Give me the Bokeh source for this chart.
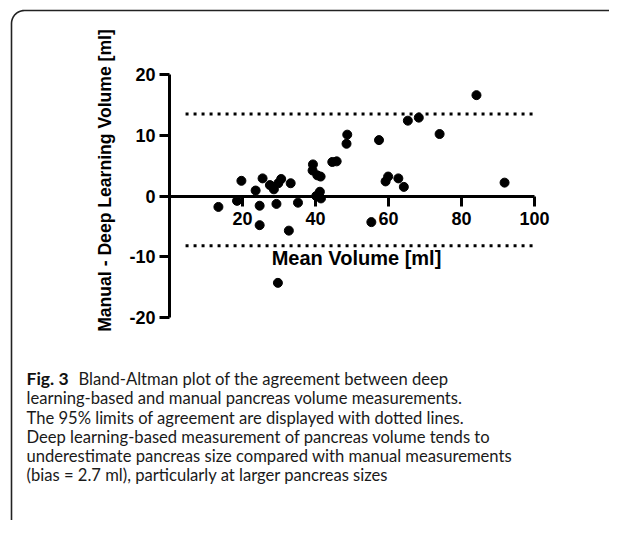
from bokeh.plotting import figure
from bokeh.models import Range1d, Label, FixedTicker, PrintfTickFormatter
from bokeh.embed import file_html
from bokeh.resources import INLINE
import math

# ---- data ----
mean_volume = [13.4, 18.5, 19.7, 23.6, 24.7, 24.7, 25.5, 27.5, 28.6, 29.3,
               29.8, 30.6, 29.7, 32.7, 33.2, 35.2, 39.3, 39.2, 40.5, 41.4,
               41.2, 40.2, 41.5, 44.6, 45.8, 48.7, 48.5, 57.4, 55.3, 59.9,
               59.2, 62.7, 64.2, 65.3, 68.3, 74.0, 84.1, 91.8]
difference = [-1.8, -0.8, 2.5, 0.9, -1.6, -4.8, 2.9, 1.8, 1.1, -1.3,
              2.1, 2.8, -14.3, -5.7, 2.1, -1.1, 5.2, 4.2, 3.4, 3.2,
              0.7, 0.0, -0.4, 5.6, 5.7, 10.1, 8.6, 9.2, -4.3, 3.2,
              2.4, 2.9, 1.5, 12.4, 12.9, 10.2, 16.6, 2.2]
limits_of_agreement = [13.5, -8.2]
x_ticks = [20, 40, 60, 80, 100]
y_ticks = [-20, -10, 0, 10, 20]
x_bounds = (0, 100)
y_bounds = (-20, 20)

x_title = "Mean Volume [ml]"
y_title = "Manual - Deep Learning Volume [ml]"
caption_head = "Fig. 3"
caption_lines = [
    "Bland-Altman plot of the agreement between deep",
    "learning-based and manual pancreas volume measurements.",
    "The 95% limits of agreement are displayed with dotted lines.",
    "Deep learning-based measurement of pancreas volume tends to",
    "underestimate pancreas size compared with manual measurements",
    "(bias = 2.7 ml), particularly at larger pancreas sizes",
]

# ---- geometry: reference-image pixels -> data ----
W, H = 609, 520
OX, OY = 0, 0                       # canvas origin in the screenshot
X0_PX, X100_PX = 169.0, 534.0       # x = 0 and x = 100
Y20_PX, YM20_PX = 74.0, 317.0       # y = 20 and y = -20
sx = (X100_PX - X0_PX) / 100.0
sy = (YM20_PX - Y20_PX) / 40.0
def dx(px):
    return (px - X0_PX) / sx
def dy(py):
    return 20 - (py - Y20_PX) / sy

p = figure(width=W, height=H, output_backend="svg", toolbar_location=None,
           x_range=Range1d(dx(OX), dx(OX + W)),
           y_range=Range1d(dy(OY + H), dy(OY)),
           min_border=0)
p.outline_line_color = None
p.grid.visible = False
p.background_fill_color = "white"
p.border_fill_color = "white"

for ax in (p.xaxis[0], p.yaxis[0]):
    ax.axis_line_width = 3
    ax.axis_line_color = "black"
    ax.major_tick_line_width = 3
    ax.major_tick_line_color = "black"
    ax.major_tick_out = 10
    ax.major_tick_in = 0
    ax.minor_tick_line_color = None
    ax.major_label_text_font = "Liberation Sans"
    ax.major_label_text_font_style = "bold"
    ax.major_label_text_font_size = "18px"
    ax.major_label_text_color = "black"
    ax.formatter = PrintfTickFormatter(format="%d")

p.xaxis.fixed_location = 0
p.yaxis.fixed_location = 0
p.xaxis.bounds = x_bounds
p.yaxis.bounds = y_bounds
p.xaxis.ticker = FixedTicker(ticks=x_ticks)
p.yaxis.ticker = FixedTicker(ticks=y_ticks)
p.xaxis.major_label_standoff = 6
p.yaxis.major_label_standoff = 4

# limits of agreement (dotted)
for v in limits_of_agreement:
    p.segment(x0=4.4, y0=v, x1=100, y1=v, line_color="black",
              line_width=3, line_dash="3 5")

p.scatter(mean_volume, difference, size=9, color="black")

# rounded frame border (top and left edges)
r = 13.0
arc_t = [math.pi / 2 * k / 12 for k in range(13)]
bx = [dx(11 + r - r * math.cos(t)) for t in arc_t]
by = [dy(10 + r - r * math.sin(t)) for t in arc_t]
bx = [dx(11)] + bx + [dx(OX + W)]
by = [dy(OY + H)] + by + [dy(10)]
p.line(bx, by, line_color="#222", line_width=1.6)

p.add_layout(Label(x=dx(356), y=dy(257), text=x_title, text_align="center",
                   text_baseline="middle", text_font="Liberation Sans",
                   text_font_style="bold", text_font_size="20px",
                   text_color="black"))
p.add_layout(Label(x=dx(104), y=dy(180), text=y_title, angle=math.pi / 2,
                   text_align="center", text_baseline="middle",
                   text_font="Liberation Sans", text_font_style="bold",
                   text_font_size="17.6px", text_color="black"))

cap_ys = [378, 397, 417, 436, 455, 474]
p.add_layout(Label(x=dx(26), y=dy(cap_ys[0]), text=caption_head,
                   text_align="left", text_baseline="middle",
                   text_font="Lato", text_font_style="bold",
                   text_font_size="17.5px", text_color="#111"))
for i, line in enumerate(caption_lines):
    x0 = 78 if i == 0 else 26
    p.add_layout(Label(x=dx(x0), y=dy(cap_ys[i]), text=line,
                       text_align="left", text_baseline="middle",
                       text_font="Lato", text_font_size="16.6px",
                       text_color="#1a1a1a"))

open("out.html", "w").write(file_html(p, INLINE))
